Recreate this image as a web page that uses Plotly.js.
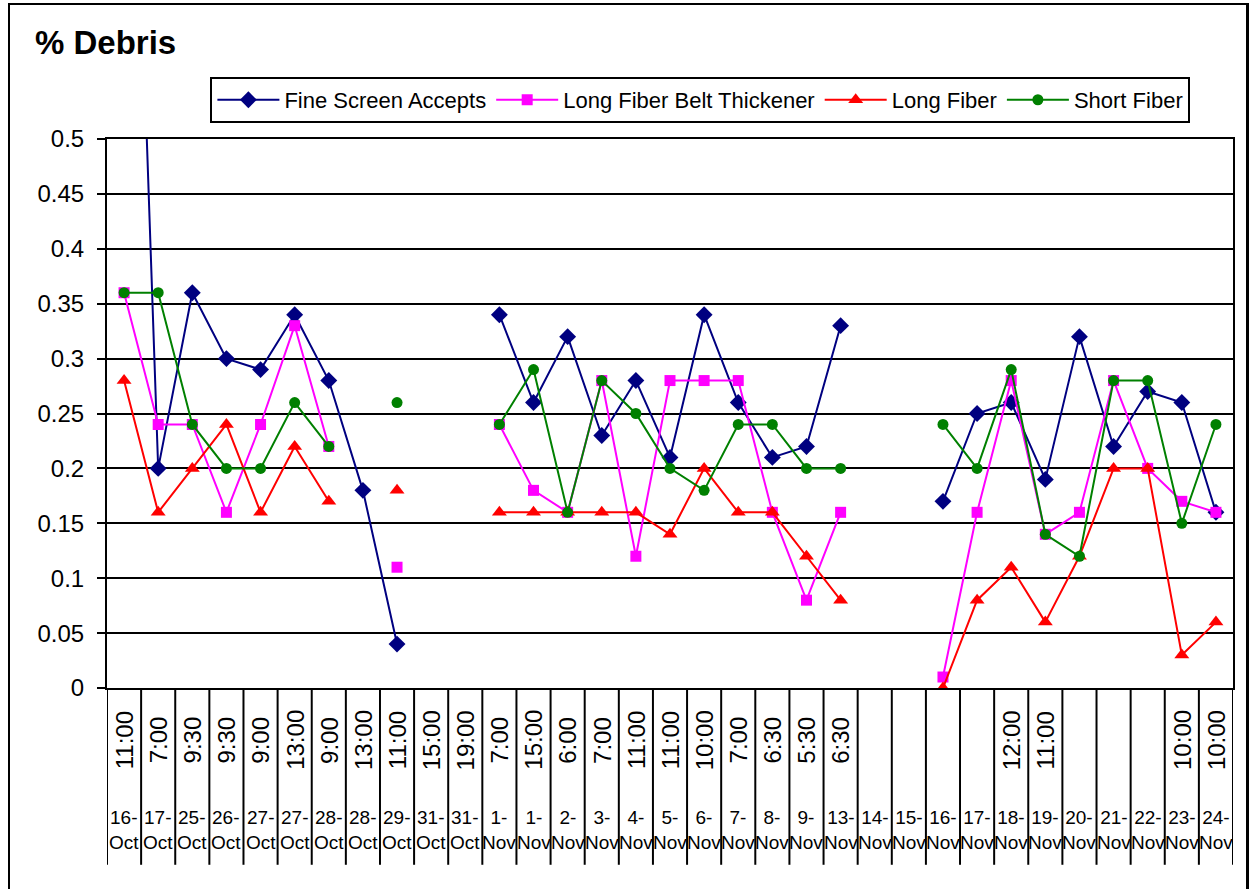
<!DOCTYPE html>
<html>
<head>
<meta charset="utf-8">
<script src="https://cdn.plot.ly/plotly-3.0.1.min.js"></script>
<style>
  html, body { margin: 0; padding: 0; background: #fff; }
  #wrap { position: relative; width: 1251px; height: 890px; }
  #chart { position: absolute; left: 0; top: 0; width: 1251px; height: 890px; }
  #frame { position: absolute; left: 8px; top: 3px; width: 1236px; height: 884px;
           border-left: 2px solid #000; border-top: 2px solid #000; border-right: 3px solid #000;
           pointer-events: none; }
</style>
</head>
<body>
<div id="wrap"><div id="chart"></div><div id="frame"></div></div>
<script>
// ---- data ----
const dates = ["16-Oct","17-Oct","25-Oct","26-Oct","27-Oct","27-Oct","28-Oct","28-Oct","29-Oct","31-Oct","31-Oct",
  "1-Nov","1-Nov","2-Nov","3-Nov","4-Nov","5-Nov","6-Nov","7-Nov","8-Nov","9-Nov","13-Nov",
  "14-Nov","15-Nov","16-Nov","17-Nov","18-Nov","19-Nov","20-Nov","21-Nov","22-Nov","23-Nov","24-Nov"];
const times = ["11:00","7:00","9:30","9:30","9:00","13:00","9:00","13:00","11:00","15:00","19:00",
  "7:00","15:00","6:00","7:00","11:00","11:00","10:00","7:00","6:30","5:30","6:30",
  "","","","","12:00","11:00","","","","10:00","10:00"];

const fineScreenAccepts = [1.1,0.20,0.36,0.30,0.29,0.34,0.28,0.18,0.04,null,null,
  0.34,0.26,0.32,0.23,0.28,0.21,0.34,0.26,0.21,0.22,0.33,
  null,null,0.17,0.25,0.26,0.19,0.32,0.22,0.27,0.26,0.16];
const longFiberBeltThickener = [0.36,0.24,0.24,0.16,0.24,0.33,0.22,null,0.11,null,null,
  0.24,0.18,0.16,0.28,0.12,0.28,0.28,0.28,0.16,0.08,0.16,
  null,null,0.01,0.16,0.28,0.14,0.16,0.28,0.20,0.17,0.16];
const longFiber = [0.28,0.16,0.20,0.24,0.16,0.22,0.17,null,0.18,null,null,
  0.16,0.16,0.16,0.16,0.16,0.14,0.20,0.16,0.16,0.12,0.08,
  null,null,0.00,0.08,0.11,0.06,0.12,0.20,0.20,0.03,0.06];
const shortFiber = [0.36,0.36,0.24,0.20,0.20,0.26,0.22,null,0.26,null,null,
  0.24,0.29,0.16,0.28,0.25,0.20,0.18,0.24,0.24,0.20,0.20,
  null,null,0.24,0.20,0.29,0.14,0.12,0.28,0.28,0.15,0.24];

const yTicks = [0,0.05,0.1,0.15,0.2,0.25,0.3,0.35,0.4,0.45,0.5];

// ---- build ----
const cats = dates.map((d,i) => times[i] ? d + " " + times[i] : d);
const FONT = "Arial, 'Liberation Sans', sans-serif";

function tr(name, y, color, symbol, size) {
  return {
    type: "scatter", mode: "lines+markers", name: name, x: cats, y: y,
    line: {color: color, width: 2},
    marker: {color: color, symbol: symbol, size: size},
    connectgaps: false
  };
}
const traces = [
  tr("Fine Screen Accepts", fineScreenAccepts, "#000080", "diamond", 13),
  tr("Long Fiber Belt Thickener", longFiberBeltThickener, "#FF00FF", "square", 11),
  tr("Long Fiber", longFiber, "#FF0000", "triangle-up", 13),
  tr("Short Fiber", shortFiber, "#008000", "circle", 11)
];

const annotations = [];
cats.forEach((c,i) => {
  if (times[i]) {
    annotations.push({x: c, xref: "x", y: -0.095, yref: "paper", text: times[i],
      textangle: -90, showarrow: false, xanchor: "center", yanchor: "middle",
      font: {family: FONT, size: 24, color: "#000"}});
  }
  const parts = dates[i].split("-");
  annotations.push({x: c, xref: "x", y: -0.258, yref: "paper",
    text: parts[0] + "-<br>" + parts[1], showarrow: false, align: "center",
    xanchor: "center", yanchor: "middle", borderpad: 0,
    font: {family: FONT, size: 19, color: "#000"}});
});

const shapes = [];
for (let k = 0; k <= cats.length; k++) {
  shapes.push({type: "line", xref: "x", yref: "paper", x0: k - 0.5, x1: k - 0.5,
    y0: 0, y1: -0.322, line: {color: "#000", width: 2}});
}

const layout = {
  width: 1251, height: 890,
  margin: {l: 107, r: 18, t: 139, b: 202},
  paper_bgcolor: "rgba(0,0,0,0)", plot_bgcolor: "#fff",
  font: {family: FONT, color: "#000"},
  title: {text: "<b>% Debris</b>", xref: "container", yref: "container",
    x: 35/1251, xanchor: "left", y: 1 - 42/890, yanchor: "middle",
    font: {family: FONT, size: 33, color: "#000"}},
  showlegend: true,
  legend: {orientation: "h", x: 0.527, xanchor: "center", y: 1.113, yanchor: "top",
    bordercolor: "#000", borderwidth: 2, bgcolor: "#fff",
    font: {family: FONT, size: 22, color: "#000"}, itemwidth: 62},
  xaxis: {type: "category", categoryorder: "array", categoryarray: cats,
    range: [-0.5, cats.length - 0.5], showticklabels: false, ticks: "",
    showgrid: false, showline: true, linecolor: "#000", linewidth: 2, mirror: true,
    zeroline: false, fixedrange: true},
  yaxis: {range: [0, 0.5], tickvals: yTicks, ticktext: yTicks.map(String),
    showgrid: true, gridcolor: "#000", gridwidth: 2,
    ticks: "outside", ticklen: 8, tickwidth: 2, tickcolor: "#000",
    ticklabelstandoff: 8,
    showline: true, linecolor: "#000", linewidth: 2, mirror: true,
    zeroline: false, tickfont: {family: FONT, size: 24, color: "#000"}, fixedrange: true},
  annotations: annotations,
  shapes: shapes
};

Plotly.newPlot("chart", traces, layout, {displayModeBar: false, staticPlot: true});
</script>
</body>
</html>
